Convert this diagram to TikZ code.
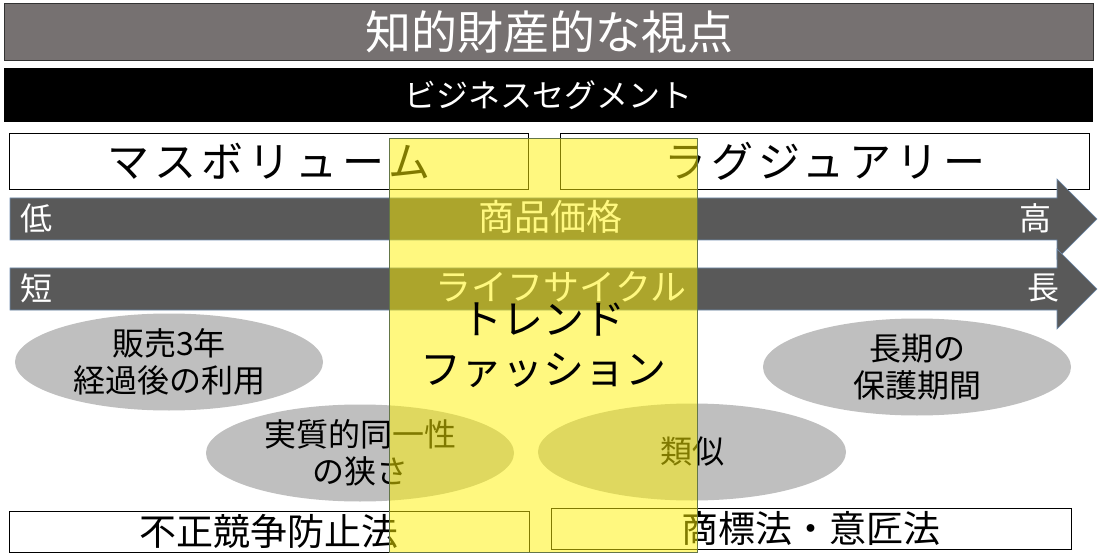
\documentclass[tikz,border=0pt]{standalone}
\usepackage{fontspec}
\setmainfont{Noto Sans CJK JP}
\usetikzlibrary{shapes.geometric}
\definecolor{titlegray}{RGB}{118,113,113}
\definecolor{axisgray}{RGB}{89,89,89}
\definecolor{axisedge}{RGB}{110,140,175}
\definecolor{issuegray}{RGB}{191,191,191}
\definecolor{trendedge}{RGB}{100,118,72}
\begin{document}
\begin{tikzpicture}[x=1pt, y=-1pt,
  bar/.style={minimum width=1089pt, inner sep=0pt, text=white},
  segbox/.style={draw=black, fill=white, line width=0.8pt, minimum height=56pt, inner sep=0pt,
                 font=\fontsize{42}{50}\selectfont\addfontfeature{LetterSpace=12}},
  axis/.style={fill=axisgray, draw=axisedge, line width=0.6pt},
  axislabel/.style={text=white, inner sep=0pt, font=\fontsize{32}{38}\selectfont},
  issue/.style={ellipse, fill=issuegray, minimum width=308pt, minimum height=97pt, inner sep=0pt,
                align=center, font=\fontsize{32}{37}\selectfont},
  lawbox/.style={draw=black, fill=white, line width=0.8pt, minimum width=520pt, minimum height=41pt,
                 inner sep=0pt, font=\fontsize{37}{40}\selectfont},
  trend/.style={draw=trendedge, line width=0.8pt, fill=yellow, fill opacity=0.5, text opacity=1,
                minimum width=308pt, minimum height=414pt, inner sep=0pt, align=center,
                font=\fontsize{41}{50}\selectfont}]
  \useasboundingbox (0,0) rectangle (1098,556);
  % headings
  \node[bar, fill=titlegray, draw=black!80, minimum height=57pt, font=\fontsize{46}{50}\selectfont]
    (view) at (549,32) {知的財産的な視点};
  \node[bar, fill=black, minimum height=54pt, font=\fontsize{32}{38}\selectfont]
    (segment) at (548,95) {ビジネスセグメント};
  \node[segbox, minimum width=519pt] (mass) at (269,161) {マスボリューム};
  \node[segbox, minimum width=529pt] (luxury) at (825,161) {ラグジュアリー};
  % axes
  \draw[axis] (10,198) -- (1057,198) -- (1057,179) -- (1097,219) -- (1057,259)
    -- (1057,240) -- (10,240) -- cycle;
  \node[axislabel] (low) at (36,218) {低};
  \node[axislabel, font=\fontsize{36}{40}\selectfont] (price) at (550,217) {商品価格};
  \node[axislabel] (high) at (1035,218) {高};
  \draw[axis] (10,268) -- (1057,268) -- (1057,249) -- (1097,289) -- (1057,329)
    -- (1057,310) -- (10,310) -- cycle;
  \node[axislabel] (short) at (36,288) {短};
  \node[axislabel, font=\fontsize{36}{40}\selectfont] (life) at (561,287) {ライフサイクル};
  \node[axislabel] (long) at (1043,288) {長};
  % issues
  \node[issue] (afterthree) at (169,362) {販売3年\\経過後の利用};
  \node[issue] (longterm) at (917,367) {長期の\\保護期間};
  \node[issue] (identity) at (360,453) {実質的同一性\\の狭さ};
  \node[issue] (similar) at (692,452) {類似};
  % laws
  \node[lawbox] (unfair) at (269,531.5) {不正競争防止法};
  \node[lawbox] (trademark) at (811,528.5) {商標法・意匠法};
  % trend fashion
  \node[trend] (fashion) at (543,345) {トレンド\\ファッション};
\end{tikzpicture}
\end{document}
